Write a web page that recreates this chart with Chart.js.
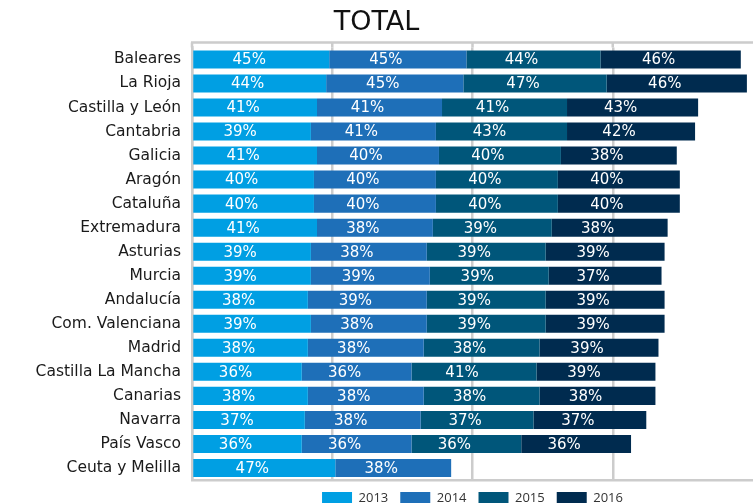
<!DOCTYPE html>
<html>
<head>
<meta charset="utf-8">
<script src="https://cdn.jsdelivr.net/npm/chart.js@4"></script>
<style>
  body { margin: 0; background: #fff; }
  #wrap { width: 753px; height: 503px; position: relative; }
</style>
</head>
<body>
<div id="wrap"><canvas id="chart"></canvas></div>
<script>
// --- Datos ---
const regions = ["Baleares", "La Rioja", "Castilla y León", "Cantabria", "Galicia", "Aragón", "Cataluña",
    "Extremadura", "Asturias", "Murcia", "Andalucía", "Com. Valenciana", "Madrid", "Castilla La Mancha",
    "Canarias", "Navarra", "País Vasco", "Ceuta y Melilla"];
const years = ["2013", "2014", "2015", "2016"];
const v2013 = [45, 44, 41, 39, 41, 40, 40, 41, 39, 39, 38, 39, 38, 36, 38, 37, 36, 47];
const v2014 = [45, 45, 41, 41, 40, 40, 40, 38, 38, 39, 39, 38, 38, 36, 38, 38, 36, 38];
const v2015 = [44, 47, 41, 43, 40, 40, 40, 39, 39, 39, 39, 39, 38, 41, 38, 37, 36, null];
const v2016 = [46, 46, 43, 42, 38, 40, 40, 38, 39, 37, 39, 39, 39, 39, 38, 37, 36, null];
const colors = ["#009fe3", "#1e6fb8", "#00567a", "#002b4f"];
const gridColor = "#cccccc";

// --- Etiquetas dentro de las barras ---
const barLabels = {
    id: "barLabels",
    afterDatasetsDraw(chart) {
        const ctx = chart.ctx;
        ctx.save();
        ctx.fillStyle = "#ffffff";
        ctx.font = '15px "DejaVu Sans"';
        ctx.textAlign = "center";
        ctx.textBaseline = "middle";
        chart.data.datasets.forEach((ds, i) => {
            chart.getDatasetMeta(i).data.forEach((bar, j) => {
                const v = ds.data[j];
                if (v === null || v === undefined) return;
                const p = bar.getProps(["x", "y", "base"], true);
                ctx.fillText(v + "%", (p.x + p.base) / 2 - 12, p.y + 1);
            });
        });
        ctx.restore();
    }
};

// --- Marco superior ---
const topFrame = {
    id: "topFrame",
    beforeDatasetsDraw(chart) {
        const { ctx, chartArea, scales } = chart;
        const y0 = chartArea.top - 5;
        ctx.save();
        ctx.strokeStyle = gridColor;
        ctx.lineWidth = 2.5;
        ctx.beginPath();
        ctx.moveTo(chartArea.left - 1, y0);
        ctx.lineTo(chartArea.right, y0);
        scales.x.ticks.forEach(t => {
            const x = scales.x.getPixelForValue(t.value);
            ctx.moveTo(x, y0);
            ctx.lineTo(x, chartArea.top);
        });
        ctx.stroke();
        ctx.restore();
    }
};

const series = [v2013, v2014, v2015, v2016];
Chart.defaults.font.family = '"DejaVu Sans"';

new Chart(document.getElementById("chart"), {
    type: "bar",
    data: {
        labels: regions,
        datasets: years.map((y, i) => ({
            label: y,
            data: series[i],
            backgroundColor: colors[i],
            borderWidth: 0,
            barPercentage: 0.75,
            categoryPercentage: 1
        }))
    },
    options: {
        indexAxis: "y",
        responsive: true,
        maintainAspectRatio: false,
        animation: false,
        layout: { padding: { top: 0, right: 0, bottom: -12, left: 0 } },
        scales: {
            x: {
                stacked: true,
                min: 0,
                max: 184,
                afterBuildTicks: s => { s.ticks = s.ticks.filter(t => t.value < 184); },
                ticks: { display: false, stepSize: 46.5 },
                grid: { color: gridColor, lineWidth: 2.5, drawTicks: false },
                border: { color: gridColor, width: 2.5 }
            },
            y: {
                stacked: true,
                afterFit: s => { s.width = 192; },
                ticks: { color: "#1a1a1a", font: { size: 15.5 }, padding: 11 },
                grid: { display: false, drawTicks: false },
                border: { color: gridColor, width: 2.5 }
            }
        },
        plugins: {
            title: {
                display: true,
                text: "TOTAL",
                color: "#111111",
                font: { size: 27, weight: "normal" },
                padding: { top: 7, bottom: 8 }
            },
            legend: {
                position: "bottom",
                fullSize: false,
                labels: {
                    boxWidth: 30,
                    boxHeight: 13,
                    padding: 12,
                    color: "#333333",
                    font: { family: '"Open Sans"', size: 13 }
                }
            },
            tooltip: { enabled: false }
        }
    },
    plugins: [topFrame, barLabels]
});
</script>
</body>
</html>
